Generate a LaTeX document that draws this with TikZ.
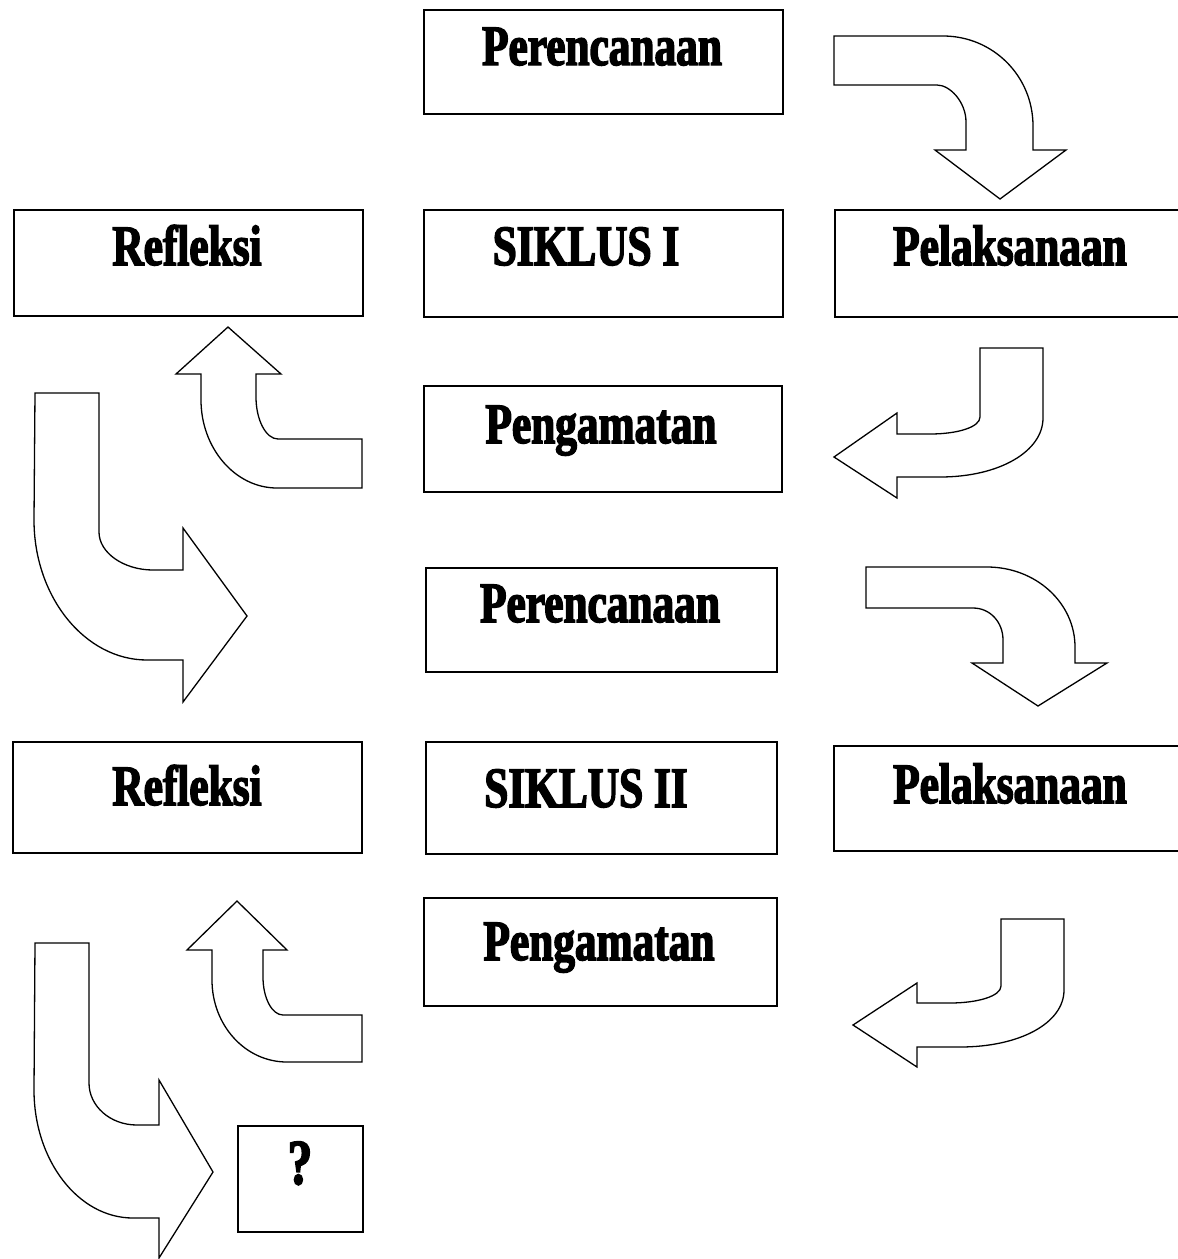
\documentclass[tikz,border=0pt]{standalone}
\usepackage{fontspec}
\newfontfamily\lblfont[FakeStretch=0.76,FakeBold=2.6]{Liberation Serif}
\begin{document}
\begin{tikzpicture}[x=1pt,y=-1pt,
  box/.style={draw=black,line width=2.2pt,fill=white,rectangle,inner sep=0pt,anchor=north west},
  lbl/.style={anchor=base,inner sep=0pt,font=\lblfont\bfseries\fontsize{57}{60}\selectfont},
  blockarrow/.style={draw=black,line width=1.3pt,fill=white,line join=miter}]
\useasboundingbox (0,0) rectangle (1178,1259);
\fill[white] (0,0) rectangle (1178,1259);

% ---- boxes ----
\node[box,minimum width=359,minimum height=104] (pr1) at (423,9) {};
\node[box,minimum width=349,minimum height=106] (rf1) at (13,209) {};
\node[box,minimum width=359,minimum height=107] (sk1) at (423,209) {};
\node[box,minimum width=360,minimum height=107] (pl1) at (834,209) {};
\node[box,minimum width=358,minimum height=106] (pg1) at (423,385) {};
\node[box,minimum width=351,minimum height=104] (pr2) at (425,567) {};
\node[box,minimum width=349,minimum height=111] (rf2) at (12,741) {};
\node[box,minimum width=351,minimum height=112] (sk2) at (425,741) {};
\node[box,minimum width=360,minimum height=105] (pl2) at (833,745) {};
\node[box,minimum width=353,minimum height=108] (pg2) at (423,897) {};
\node[box,minimum width=125,minimum height=106] (qq) at (237,1125) {};

% ---- labels ----
\node[lbl] (pr1t) at (602,65) {Perencanaan};
\node[lbl] (rf1t) at (187,265) {Refleksi};
\node[lbl] (sk1t) at (586,265) {SIKLUS I};
\node[lbl] (pl1t) at (1010,265) {Pelaksanaan};
\node[lbl] (pg1t) at (601,443) {Pengamatan};
\node[lbl] (pr2t) at (600,622) {Perencanaan};
\node[lbl] (rf2t) at (187,805) {Refleksi};
\node[lbl] (sk2t) at (586,807) {SIKLUS II};
\node[lbl] (pl2t) at (1010,803) {Pelaksanaan};
\node[lbl] (pg2t) at (599,960) {Pengamatan};
\node[lbl,font=\lblfont\bfseries\fontsize{64}{66}\selectfont] (qqt) at (300,1184) {?};

% ---- block arrows ----
% A1: Perencanaan 1 -> Pelaksanaan 1
\draw[blockarrow] (834,36) -- (943,36) .. controls (993,36) and (1033,76) .. (1033,126)
  -- (1033,150) -- (1066,150) -- (1000,199) -- (935,150) -- (966,150) -- (966,122)
  .. controls (966,102) and (950,85) .. (937,85) -- (834,85) -- cycle;
% A2: Pelaksanaan 1 -> Pengamatan 1
\draw[blockarrow] (980,348) -- (1043,348) -- (1043,418) .. controls (1043,451) and (1000,477) .. (940,477)
  -- (897,477) -- (897,498) -- (834,457) -- (897,413) -- (897,434) -- (930,434)
  .. controls (958,434) and (980,427) .. (980,417) -- cycle;
% A3: Pengamatan 1 -> Refleksi 1
\draw[blockarrow] (228,327) -- (281,374) -- (256,374) -- (256,397) .. controls (256,420) and (266,439) .. (278,439)
  -- (362,439) -- (362,488) -- (277,488) .. controls (235,488) and (201,448) .. (201,400)
  -- (201,374) -- (176,374) -- cycle;
% A4: Refleksi 1 -> Perencanaan 2
\draw[blockarrow] (35,393) -- (99,393) -- (99,532) .. controls (99,553) and (124,570) .. (153,570)
  -- (183,570) -- (183,528) -- (247,616) -- (183,702) -- (183,660) -- (147,660)
  .. controls (85,660) and (34,597) .. (34,520) -- cycle;
% A5: Perencanaan 2 -> Pelaksanaan 2
\draw[blockarrow] (866,567) -- (987,567) .. controls (1036,567) and (1075,603) .. (1075,647)
  -- (1075,663) -- (1107,663) -- (1038,706) -- (972,663) -- (1003,663) -- (1003,640)
  .. controls (1003,622) and (990,608) .. (973,608) -- (866,608) -- cycle;
% A6: Pelaksanaan 2 -> Pengamatan 2
\draw[blockarrow] (1001,919) -- (1064,919) -- (1064,990) .. controls (1064,1023) and (1020,1047) .. (960,1047)
  -- (917,1047) -- (917,1067) -- (853,1025) -- (917,983) -- (917,1003) -- (950,1003)
  .. controls (978,1003) and (1001,996) .. (1001,986) -- cycle;
% A7: Pengamatan 2 -> Refleksi 2
\draw[blockarrow] (237,901) -- (287,950) -- (263,950) -- (263,977) .. controls (263,998) and (272,1015) .. (283,1015)
  -- (362,1015) -- (362,1062) -- (287,1062) .. controls (245,1062) and (212,1025) .. (212,980)
  -- (212,950) -- (187,950) -- cycle;
% A8: Refleksi 2 -> ?
\draw[blockarrow] (35,943) -- (89,943) -- (89,1083) .. controls (89,1106) and (110,1125) .. (137,1125)
  -- (159,1125) -- (159,1080) -- (213,1172) -- (159,1258) -- (159,1218) -- (133,1218)
  .. controls (78,1218) and (34,1160) .. (34,1090) -- cycle;
\end{tikzpicture}
\end{document}
